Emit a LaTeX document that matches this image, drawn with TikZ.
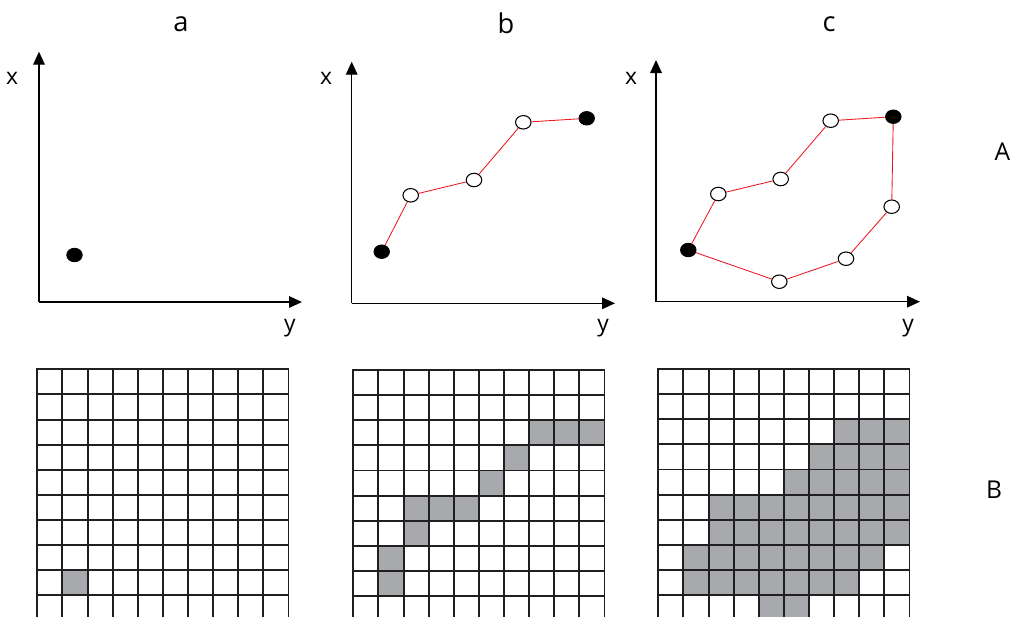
\documentclass[tikz,border=0pt]{standalone}
\usepackage{fontspec}
\setmainfont{Open Sans}
\usepackage{xcolor}
\usetikzlibrary{arrows.meta,shapes.geometric}
\definecolor{cellgray}{RGB}{167,169,173}
\definecolor{edgered}{RGB}{237,28,36}

\begin{document}
\begin{tikzpicture}[x=0.02cm,y=-0.02cm,
  axis/.style={line width=0.8pt,-{Triangle[length=7.4pt,width=6.6pt]}},
  fullpt/.style={ellipse,draw=black,fill=black,line width=0.5pt,minimum width=0.31cm,minimum height=0.27cm,inner sep=0pt},
  holept/.style={ellipse,draw=black,fill=white,line width=0.6pt,minimum width=0.31cm,minimum height=0.27cm,inner sep=0pt},
  edge/.style={edgered,line width=0.5pt},
  lbl/.style={font=\fontsize{14}{16}\selectfont,anchor=base},
  head/.style={font=\fontsize{15.5}{18}\selectfont,anchor=base},
  axlbl/.style={font=\fontsize{13}{15}\selectfont,anchor=base},
  cellline/.style={line width=1.1pt,black!88,line cap=rect}]
\useasboundingbox (0,0) rectangle (1014,616);

\node[head] (ta) at (181,31.5) {a};
\node[head] (tb) at (506,33) {b};
\node[head] (tc) at (829,31.5) {c};
\node[lbl] (rA) at (1002.5,160) {A};
\node[lbl] (rB) at (994,498) {B};

% panel a
\coordinate (oa) at (39,302);
\coordinate (xa) at (39,51.7);
\coordinate (ya) at (302,302);
\draw[axis] (oa) -- (xa);
\draw[axis] (oa) -- (ya);
\node[axlbl] (lxa) at (12,84) {x};
\node[axlbl] (lya) at (290,331) {y};
\node[fullpt] (a1) at (74.5,255) {};

% panel b
\coordinate (ob) at (351.7,303.3);
\coordinate (xb) at (351.7,61.7);
\coordinate (yb) at (615,303.3);
\draw[axis] (ob) -- (xb);
\draw[axis] (ob) -- (yb);
\node[axlbl] (lxb) at (326,84) {x};
\node[axlbl] (lyb) at (603,331) {y};
\node[fullpt] (b1) at (381.7,251.7) {};
\node[holept] (b2) at (410.7,195.3) {};
\node[holept] (b3) at (474,180) {};
\node[holept] (b4) at (523.3,122.3) {};
\node[fullpt] (b5) at (586.7,118.3) {};
\draw[edge] (b1) -- (b2) -- (b3) -- (b4) -- (b5);

% panel c
\coordinate (oc) at (656,301.7);
\coordinate (xc) at (656,60);
\coordinate (yc) at (920,301.7);
\draw[axis] (oc) -- (xc);
\draw[axis] (oc) -- (yc);
\node[axlbl] (lxc) at (631,84) {x};
\node[axlbl] (lyc) at (908,331) {y};
\node[fullpt] (c1) at (688.3,250) {};
\node[holept] (c2) at (718.3,194) {};
\node[holept] (c3) at (780.7,179) {};
\node[holept] (c4) at (830.7,120.7) {};
\node[fullpt] (c5) at (893.3,116.7) {};
\node[holept] (c6) at (891.7,206.7) {};
\node[holept] (c7) at (846,258.7) {};
\node[holept] (c8) at (779.3,281.7) {};
\draw[edge] (c1) -- (c2) -- (c3) -- (c4) -- (c5) -- (c6) -- (c7) -- (c8) -- (c1);

% raster grids
\begin{scope}
\clip (0,0) rectangle (1014,616);
\begin{scope}[shift={(37.3,369.3)}]
\foreach \r/\a/\b in {8/1/1}
  \fill[cellgray] (\a*25.12,\r*25.12) rectangle ({(\b+1)*25.12},{(\r+1)*25.12});
\foreach \i in {0,...,10} {
  \draw[cellline] (\i*25.12,0) -- (\i*25.12,251.2);
  \draw[cellline] (0,\i*25.12) -- (251.2,\i*25.12);
}
\end{scope}
\begin{scope}[shift={(353.3,370)}]
\foreach \r/\a/\b in {2/7/9,3/6/6,4/5/5,5/2/4,6/2/2,7/1/1,8/1/1}
  \fill[cellgray] (\a*25.12,\r*25.12) rectangle ({(\b+1)*25.12},{(\r+1)*25.12});
\foreach \i in {0,...,10} {
  \draw[cellline] (\i*25.12,0) -- (\i*25.12,251.2);
  \draw[cellline] (0,\i*25.12) -- (251.2,\i*25.12);
}
\end{scope}
\begin{scope}[shift={(658.3,369)}]
\foreach \r/\a/\b in {2/7/9,3/6/9,4/5/9,5/2/9,6/2/9,7/1/8,8/1/7,9/4/5}
  \fill[cellgray] (\a*25.12,\r*25.12) rectangle ({(\b+1)*25.12},{(\r+1)*25.12});
\foreach \i in {0,...,10} {
  \draw[cellline] (\i*25.12,0) -- (\i*25.12,251.2);
  \draw[cellline] (0,\i*25.12) -- (251.2,\i*25.12);
}
\end{scope}
\end{scope}
\end{tikzpicture}
\end{document}
